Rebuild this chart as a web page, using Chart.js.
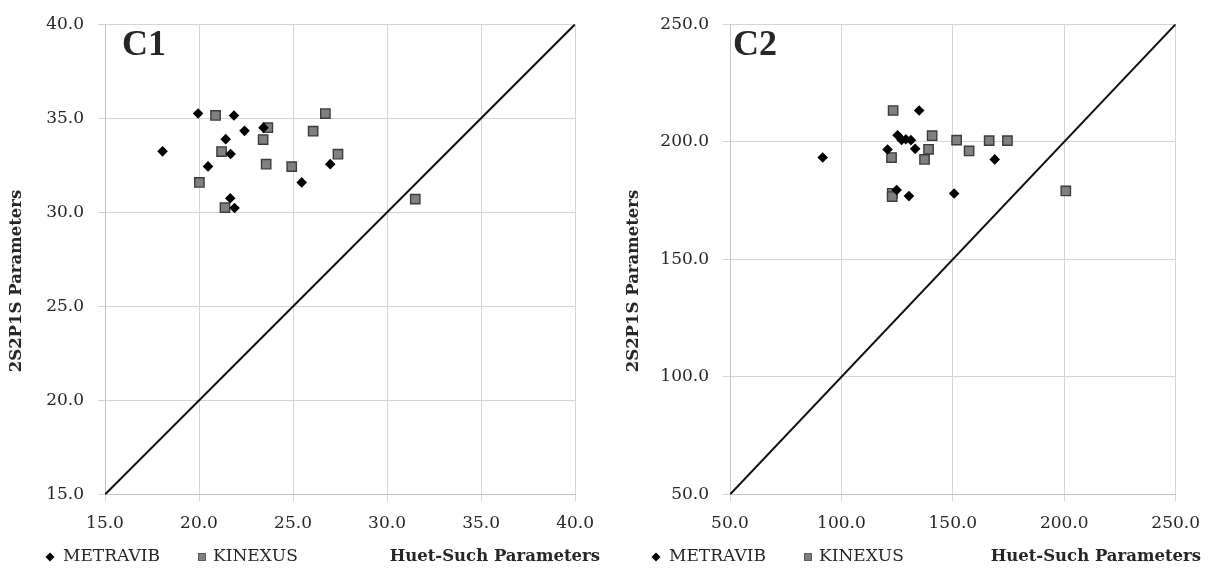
<!DOCTYPE html>
<html>
<head>
<meta charset="utf-8">
<script src="https://cdn.jsdelivr.net/npm/chart.js@4.4.0/dist/chart.umd.min.js"></script>
<style>
  html, body { margin: 0; padding: 0; background: #fff; }
  #wrap { position: relative; width: 1212px; height: 571px; }
  .box { position: absolute; top: 0; width: 606px; height: 571px; }
  #b1 { left: 0; }
  #b2 { left: 606px; }
</style>
</head>
<body>
<div id="wrap">
  <div class="box" id="b1"><canvas id="c1" width="606" height="571"></canvas></div>
  <div class="box" id="b2"><canvas id="c2" width="606" height="571"></canvas></div>
</div>
<script>
// ---------- DATA ----------
const seriesNames = ["METRAVIB", "KINEXUS"];
const xAxisTitle = "Huet-Such Parameters";
const yAxisTitle = "2S2P1S Parameters";
const panelLabels = ["C1", "C2"];

// Panel C1
const c1Range = [15, 40];
const c1Step = 5;
const c1MetravibX = [19.95, 21.86, 22.42, 23.43, 21.42, 18.06, 21.68, 20.48, 26.98, 25.46, 21.66, 21.89];
const c1MetravibY = [35.25, 35.15, 34.33, 34.50, 33.89, 33.24, 33.10, 32.44, 32.56, 31.59, 30.75, 30.23];
const c1KinexusX  = [20.88, 26.72, 23.66, 26.07, 23.41, 21.20, 27.39, 23.57, 24.93, 20.02, 21.38, 31.50];
const c1KinexusY  = [35.15, 35.25, 34.50, 34.31, 33.87, 33.23, 33.09, 32.56, 32.43, 31.59, 30.25, 30.70];

// Panel C2
const c2Range = [50, 250];
const c2Step = 50;
const c2MetravibX = [134.9, 91.6, 125.2, 127.0, 128.9, 131.2, 120.7, 133.1, 168.8, 124.8, 130.3, 150.6];
const c2MetravibY = [213.3, 193.3, 202.8, 200.8, 201.1, 200.7, 196.7, 197.0, 192.5, 179.5, 176.9, 178.0];
const c2KinexusX  = [123.2, 140.7, 151.7, 166.3, 174.5, 139.1, 157.3, 122.5, 137.3, 122.8, 122.8, 200.7];
const c2KinexusY  = [213.3, 202.6, 200.7, 200.5, 200.5, 196.8, 196.1, 193.3, 192.5, 178.1, 176.7, 179.1];

// ---------- HELPERS ----------
function pts(xs, ys) { return xs.map((x, i) => ({ x: x, y: ys[i] })); }

const TEXT = '#262626';
const GRID = '#d4d4d4';
const TICKFONT = { family: 'DejaVu Serif', size: 17 };

function textPlugin(cfg) {
  return {
    id: 'texts_' + cfg.label,
    afterDraw(chart) {
      const ctx = chart.ctx;
      ctx.save();
      ctx.fillStyle = TEXT;
      // Panel label
      ctx.font = 'bold 36px "Liberation Serif"';
      ctx.textAlign = 'left';
      ctx.textBaseline = 'alphabetic';
      ctx.fillText(cfg.label, cfg.labelX, 55);
      // Legend
      ctx.font = '17px "DejaVu Serif"';
      ctx.textBaseline = 'middle';
      const ly = 557;
      // diamond
      ctx.fillStyle = '#000';
      ctx.beginPath();
      ctx.moveTo(50, ly - 4.5); ctx.lineTo(54.5, ly); ctx.lineTo(50, ly + 4.5); ctx.lineTo(45.5, ly);
      ctx.closePath(); ctx.fill();
      ctx.fillStyle = TEXT;
      ctx.fillText(seriesNames[0], 63, ly);
      // square
      ctx.fillStyle = '#808080';
      ctx.fillRect(198, ly - 4, 8, 8);
      ctx.strokeStyle = '#5a5a5a'; ctx.lineWidth = 1;
      ctx.strokeRect(198.5, ly - 3.5, 7, 7);
      ctx.fillStyle = TEXT;
      ctx.fillText(seriesNames[1], 213, ly);
      // X title
      ctx.font = 'bold 16.5px "DejaVu Serif"';
      ctx.textAlign = 'right';
      ctx.fillText(xAxisTitle, cfg.xTitleRight, ly);
      // Y title
      ctx.translate(cfg.yTitleX, 281);
      ctx.rotate(-Math.PI / 2);
      ctx.textAlign = 'center';
      ctx.fillText(yAxisTitle, 0, 0);
      ctx.restore();
    }
  };
}

function makeChart(canvasId, range, step, mX, mY, kX, kY, plot, cfg) {
  const ctx = document.getElementById(canvasId).getContext('2d');
  const axisBase = {
    type: 'linear',
    min: range[0], max: range[1],
    ticks: {
      stepSize: step, color: TEXT, font: TICKFONT,
      callback: v => Number(v).toFixed(1)
    },
    grid: { color: GRID, lineWidth: 1, tickLength: 7, drawTicks: true },
    border: { color: '#c4c4c4', width: 1 },
    title: { display: false }
  };
  return new Chart(ctx, {
    type: 'scatter',
    data: {
      datasets: [
        {
          label: seriesNames[0], data: pts(mX, mY),
          pointStyle: 'rectRot', pointRadius: 5.3, pointHoverRadius: 5.3,
          backgroundColor: '#000', borderColor: '#000', borderWidth: 0
        },
        {
          label: seriesNames[1], data: pts(kX, kY),
          pointStyle: 'rect', pointRadius: 6.6, pointHoverRadius: 6.6,
          backgroundColor: '#808080', borderColor: '#3c3c3c', borderWidth: 1.4
        },
        {
          label: 'y = x', data: [{ x: range[0], y: range[0] }, { x: range[1], y: range[1] }],
          showLine: true, pointRadius: 0, borderColor: '#111', borderWidth: 2, fill: false
        }
      ]
    },
    options: {
      responsive: false, animation: false, devicePixelRatio: 1,
      layout: { padding: { top: plot.top, right: plot.right, bottom: 0, left: 0 } },
      plugins: { legend: { display: false }, tooltip: { enabled: false } },
      scales: {
        x: Object.assign({}, axisBase, {
          position: 'bottom',
          ticks: Object.assign({}, axisBase.ticks, { padding: 12, maxRotation: 0 }),
          afterFit: s => { s.height = plot.xh; }
        }),
        y: Object.assign({}, axisBase, {
          position: 'left',
          ticks: Object.assign({}, axisBase.ticks, { padding: 14 }),
          afterFit: s => { s.width = plot.left; }
        })
      }
    },
    plugins: [textPlugin(cfg)]
  });
}

makeChart('c1', c1Range, c1Step, c1MetravibX, c1MetravibY, c1KinexusX, c1KinexusY,
  { top: 16, right: 30, left: 105, xh: 76.5 },
  { label: panelLabels[0], labelX: 122, xTitleRight: 600, yTitleX: 17 });
makeChart('c2', c2Range, c2Step, c2MetravibX, c2MetravibY, c2KinexusX, c2KinexusY,
  { top: 16, right: 36, left: 124, xh: 76.5 },
  { label: panelLabels[1], labelX: 127, xTitleRight: 595, yTitleX: 28 });
</script>
</body>
</html>
